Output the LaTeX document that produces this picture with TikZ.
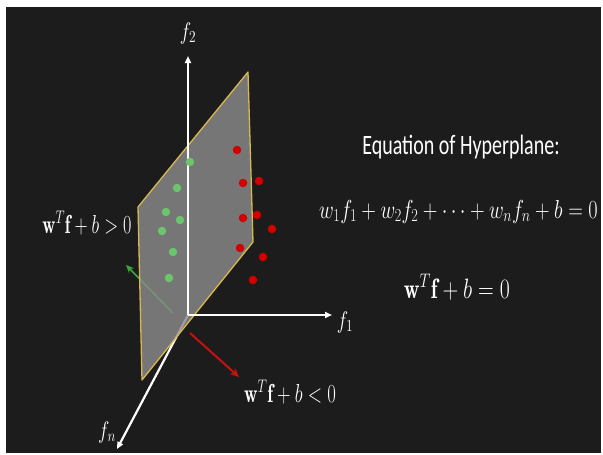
\RequirePackage{fix-cm}
\documentclass[tikz,border=0pt]{standalone}
\usepackage{fontspec}
\usepackage{amsmath}
\newfontfamily\labfont{Carlito}
\usetikzlibrary{arrows.meta}
\definecolor{bgdark}{HTML}{1C1C1C}
\definecolor{planegray}{HTML}{8A8A8A}
\definecolor{planeedge}{HTML}{D8B84E}
\definecolor{dotgreen}{HTML}{6CC46C}
\definecolor{dotred}{HTML}{D40000}
\definecolor{arrred}{HTML}{C81010}
\definecolor{arrgreen}{HTML}{3CA83C}
\tikzset{
  axis/.style={white, line width=2.2pt, -{Triangle[length=7pt,width=6pt]}},
  gdot/.style={circle, fill=dotgreen, inner sep=0pt, minimum size=8.5pt},
  rdot/.style={circle, fill=dotred, inner sep=0pt, minimum size=8.5pt},
  lab/.style={text=white, inner sep=0pt},
}
\begin{document}
\begin{tikzpicture}[x=1pt,y=-1pt]
\useasboundingbox (0,0) rectangle (603,455);
\fill[white] (0,0) rectangle (603,455);
\fill[bgdark] (6,7) rectangle (601,453);
% coordinates
\coordinate (O) at (188,315);
\coordinate (f2tip) at (188,56);
\coordinate (f1tip) at (332,315);
\coordinate (fntip) at (117,449);
\coordinate (P1) at (138,207);
\coordinate (P2) at (248,72);
\coordinate (P3) at (253,242);
\coordinate (P4) at (142,380);
\coordinate (g1) at (173,313);
\coordinate (g2) at (126,265);
\coordinate (r1) at (190,333);
\coordinate (r2) at (239,377);
% behind the plane
\draw[axis] (O) -- (fntip);
\draw[arrgreen, line width=1.6pt, -{Stealth[length=8pt,width=7pt]}] (g1) -- (g2);
% plane
\fill[planegray, opacity=0.82] (P1) -- (P2) -- (P3) -- (P4) -- cycle;
\draw[planeedge, line width=1.3pt, line join=round] (P1) -- (P2) -- (P3) -- (P4) -- cycle;
% axes in front
\draw[axis] (O) -- (f2tip);
\draw[axis] (O) -- (f1tip);
\draw[arrred, line width=2pt, -{Stealth[length=9pt,width=8pt]}] (r1) -- (r2);
% green dots
\foreach \p [count=\i] in {(190,162),(177,188),(166,212),(180,220),(162,231),(173,252),(169,278)}
  \node[gdot] (gd\i) at \p {};
% red dots
\foreach \p [count=\i] in {(237,150),(243,183),(259,181),(243,218),(257,215),(272,229),(240,248),(263,257),(253,280)}
  \node[rdot] (rd\i) at \p {};
% labels
\node[lab, font=\fontsize{24}{24}\selectfont] (lf2) at (188,33) {\scalebox{0.8}[1]{$f_2$}};
\node[lab, font=\fontsize{24}{24}\selectfont] (lf1) at (345,322) {\scalebox{0.8}[1]{$f_1$}};
\node[lab, font=\fontsize{24}{24}\selectfont] (lfn) at (107,432) {\scalebox{0.8}[1]{$f_n$}};
\node[lab, anchor=base, font=\fontsize{26}{26}\selectfont] (gt) at (87,233) {\scalebox{0.70}[1]{$\mathbf{w}^T\mathbf{f}+b>0$}};
\node[lab, anchor=base, font=\fontsize{26}{26}\selectfont] (lt) at (290,402) {\scalebox{0.72}[1]{$\mathbf{w}^T\mathbf{f}+b<0$}};
\node[lab, font=\labfont\fontsize{28}{28}\selectfont] (title) at (461,147) {\scalebox{0.715}[1]{Equation of Hyperplane:}};
\node[lab, anchor=base, font=\fontsize{26}{26}\selectfont] (eq1) at (458.5,218) {\scalebox{0.78}[1]{$w_1f_1+w_2f_2+\cdots+w_nf_n+b=0$}};
\node[lab, anchor=base, font=\fontsize{28}{28}\selectfont] (eq2) at (457,298) {\scalebox{0.78}[1]{$\mathbf{w}^T\mathbf{f}+b=0$}};
\end{tikzpicture}
\end{document}
